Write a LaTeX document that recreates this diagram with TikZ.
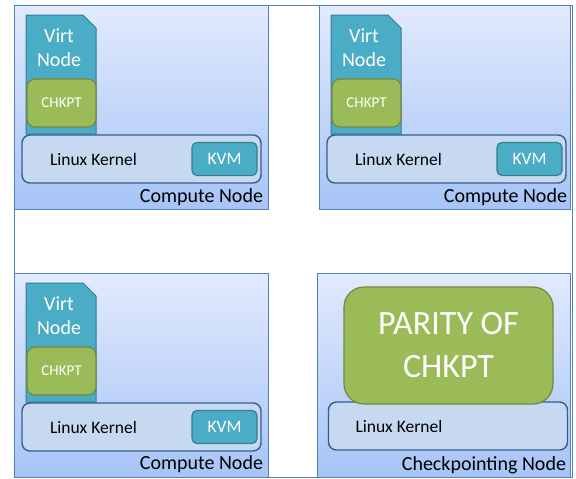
\documentclass[tikz,border=0pt]{standalone}
\usepackage{fontspec}
\setmainfont{Carlito}
\usetikzlibrary{positioning, shadows}

\definecolor{boxline}{RGB}{79,129,189}
\definecolor{boxtop}{RGB}{226,234,253}
\definecolor{boxbottom}{RGB}{167,196,246}
\definecolor{teal}{RGB}{75,172,198}
\definecolor{tealline}{RGB}{53,125,145}
\definecolor{olive}{RGB}{155,187,89}
\definecolor{oliveline}{RGB}{113,137,63}
\definecolor{kernelfill}{RGB}{198,217,241}
\definecolor{kernelline}{RGB}{56,93,138}

\begin{document}
\begin{tikzpicture}[x=1pt, y=-1pt, inner sep=0pt, outer sep=0pt]
                \tikzstyle{frame} = [draw=boxline, fill=white, line width=0.8pt, minimum width=558pt, minimum height=472pt]
                \tikzstyle{machine} = [draw=boxline, line width=1pt, top color=boxtop, bottom color=boxbottom, minimum height=204pt, drop shadow={shadow xshift=1.2pt, shadow yshift=-1.2pt, opacity=0.35}]
                \tikzstyle{virtbox} = [draw=tealline, fill=teal, line width=1pt]
                \tikzstyle{virttext} = [align=center, text=white, font=\fontsize{20}{24}\selectfont]
                \tikzstyle{chkpt} = [draw=oliveline, fill=olive, line width=1.2pt, rounded corners=8pt, minimum width=69pt, minimum height=48pt, text=white, font=\fontsize{15}{18}\selectfont]
                \tikzstyle{kernel} = [draw=kernelline, fill=kernelfill, line width=1.4pt, rounded corners=8pt, minimum width=239pt, minimum height=48pt]
                \tikzstyle{kvm} = [draw=tealline, fill=teal, line width=1.2pt, rounded corners=5pt, minimum width=65pt, minimum height=33pt, text=white, font=\fontsize{17.5}{20}\selectfont]
                \tikzstyle{kerneltext} = [font=\fontsize{17.5}{20}\selectfont]
                \tikzstyle{boxlabel} = [anchor=base east, font=\fontsize{20}{24}\selectfont]
                \tikzstyle{parity} = [draw=oliveline, fill=olive, line width=1.2pt, rounded corners=20pt, minimum width=209pt, minimum height=117pt, align=center, text=white, font=\fontsize{34}{43}\selectfont]

                \useasboundingbox (0,0) rectangle (576,479);

                % Outer frame
                \node[frame] (frame) at (293,241) {};

                % Machines
                \node[machine, minimum width=254pt] (cn1) at (141,107) {};
                \node[machine, minimum width=251pt] (cn2) at (444.5,107) {};
                \node[machine, minimum width=254pt] (cn3) at (141,375) {};
                \node[machine, minimum width=253pt] (ckn) at (443.5,375) {};

                % Compute node 1 (top left)
                \draw[virtbox] (26,15) -- (83,15) -- (96,28) -- (96,134) -- (26,134) -- cycle;
                \node[virttext] (vn1) at (59,48) {Virt\\Node};
                \node[chkpt] (ck1) at (61.5,103) {CHKPT};
                \node[kernel] (lk1) at (141.5,159) {};
                \node[kerneltext, right=28pt of lk1.west] (lt1) {Linux Kernel};
                \node[kvm, left=4pt of lk1.east] (kv1) {KVM};
                \node[boxlabel] (lb1) at ([shift={(-5,-7)}]cn1.south east) {Compute Node};

                % Compute node 2 (top right)
                \draw[virtbox] (331,15) -- (388,15) -- (401,28) -- (401,134) -- (331,134) -- cycle;
                \node[virttext] (vn2) at (364,48) {Virt\\Node};
                \node[chkpt] (ck2) at (366.5,103) {CHKPT};
                \node[kernel] (lk2) at (446.5,159) {};
                \node[kerneltext, right=28pt of lk2.west] (lt2) {Linux Kernel};
                \node[kvm, left=4pt of lk2.east] (kv2) {KVM};
                \node[boxlabel] (lb2) at ([shift={(-3,-7)}]cn2.south east) {Compute Node};

                % Compute node 3 (bottom left)
                \draw[virtbox] (26,283) -- (83,283) -- (96,296) -- (96,402) -- (26,402) -- cycle;
                \node[virttext] (vn3) at (59,316) {Virt\\Node};
                \node[chkpt] (ck3) at (61.5,371) {CHKPT};
                \node[kernel] (lk3) at (141.5,427) {};
                \node[kerneltext, right=28pt of lk3.west] (lt3) {Linux Kernel};
                \node[kvm, left=4pt of lk3.east] (kv3) {KVM};
                \node[boxlabel] (lb3) at ([shift={(-5,-8)}]cn3.south east) {Compute Node};

                % Checkpointing node (bottom right)
                \node[kernel] (lk4) at (448,426) {};
                \node[kerneltext, right=27pt of lk4.west] (lt4) {Linux Kernel};
                \node[parity] (par) at (448.5,345.5) {PARITY OF\\CHKPT};
                \node[boxlabel] (lb4) at ([shift={(-4,-7)}]ckn.south east) {Checkpointing Node};
            \end{tikzpicture}
\end{document}
